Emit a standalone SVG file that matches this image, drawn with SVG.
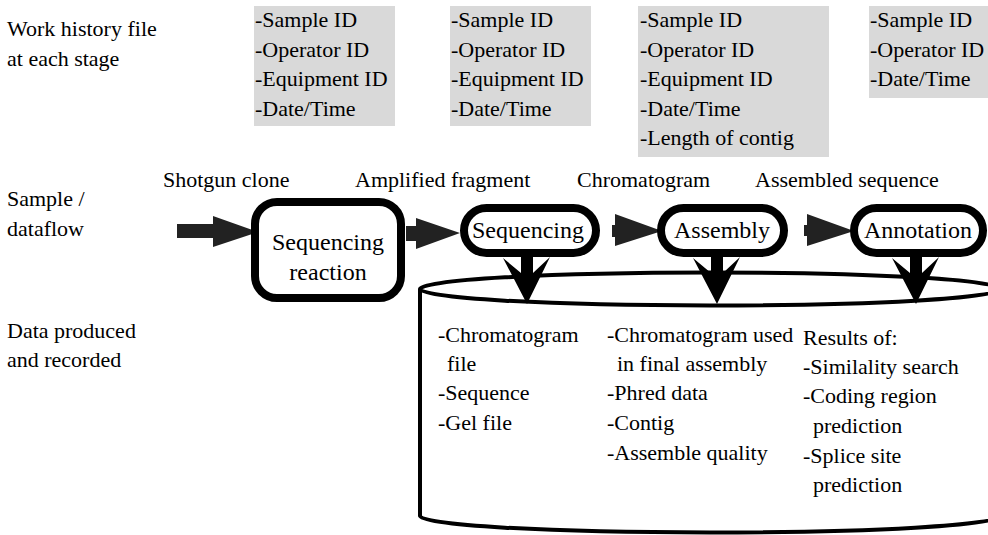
<svg xmlns="http://www.w3.org/2000/svg" width="988" height="535" viewBox="0 0 988 535" font-family="Liberation Serif, serif" font-size="22">
<defs>
<path id="downArrow" d="M-6,0 L6,0 L6,16 L23,0 L0,47 L-24,1 L-6,16 Z" fill="#000"/>
</defs>
<rect width="988" height="535" fill="#fff"/>

<g id="labels-left" font-family="Liberation Serif, serif" fill="#000">
<text x="7" y="36">Work history file</text>
<text x="7" y="66">at each stage</text>
<text x="7" y="206">Sample /</text>
<text x="7" y="236">dataflow</text>
<text x="7" y="338">Data produced</text>
<text x="7" y="367">and recorded</text>
</g>

<g id="history1" font-family="Liberation Serif, serif">
<rect x="254" y="6" width="141" height="120" fill="#d9d9d9"/>
<text x="255" y="27">-Sample ID</text>
<text x="255" y="56.5">-Operator ID</text>
<text x="255" y="86">-Equipment ID</text>
<text x="255" y="115.5">-Date/Time</text>
</g>
<g id="history2" font-family="Liberation Serif, serif">
<rect x="450" y="6" width="141" height="120" fill="#d9d9d9"/>
<text x="451" y="27">-Sample ID</text>
<text x="451" y="56.5">-Operator ID</text>
<text x="451" y="86">-Equipment ID</text>
<text x="451" y="115.5">-Date/Time</text>
</g>
<g id="history3" font-family="Liberation Serif, serif">
<rect x="638" y="6" width="191" height="151" fill="#d9d9d9"/>
<text x="640" y="27">-Sample ID</text>
<text x="640" y="56.5">-Operator ID</text>
<text x="640" y="86">-Equipment ID</text>
<text x="640" y="115.5">-Date/Time</text>
<text x="640" y="145">-Length of contig</text>
</g>
<g id="history4" font-family="Liberation Serif, serif">
<rect x="869" y="6" width="125" height="92" fill="#d9d9d9"/>
<text x="870" y="27">-Sample ID</text>
<text x="870" y="56.5">-Operator ID</text>
<text x="870" y="86">-Date/Time</text>
</g>

<g id="flow-labels" font-family="Liberation Serif, serif">
<text x="163" y="187">Shotgun clone</text>
<text x="355" y="187">Amplified fragment</text>
<text x="577" y="187">Chromatogram</text>
<text x="755" y="187">Assembled sequence</text>
</g>

<g id="database" font-family="Liberation Serif, serif">
<g fill="none" stroke="#000" stroke-width="4">
<path d="M420,289 A290,16.5 0 0 1 1000,289 A290,16.5 0 0 1 420,289 Z"/>
<path d="M420,289 L420,516 A290,16.5 0 0 0 1000,516"/>
</g>
<text x="438" y="342">-Chromatogram</text>
<text x="447" y="371">file</text>
<text x="438" y="400">-Sequence</text>
<text x="438" y="430">-Gel file</text>
<text x="607" y="342">-Chromatogram used</text>
<text x="617" y="371">in final assembly</text>
<text x="607" y="400">-Phred data</text>
<text x="607" y="430">-Contig</text>
<text x="607" y="460">-Assemble quality</text>
<text x="803" y="345">Results of:</text>
<text x="803" y="374">-Similality search</text>
<text x="803" y="403">-Coding region</text>
<text x="813" y="433">prediction</text>
<text x="803" y="463">-Splice site</text>
<text x="813" y="492">prediction</text>
</g>

<g id="connectors">
<g fill="#222">
<polygon points="177,224 213,224 213,216 258,232 213,247 213,238 177,238"/>
<polygon points="406,226 416,226 416,218 460,233 416,249 416,241 406,241"/>
<polygon points="612,225 615,225 615,214 662,231 615,246 615,237 612,237"/>
<polygon points="804,225 807,225 807,214 854,231 807,246 807,236 804,236"/>
</g>
<use href="#downArrow" x="527" y="257"/>
<use href="#downArrow" x="717" y="257"/>
<use href="#downArrow" x="916" y="257"/>
</g>

<g id="node-seqreaction" font-family="Liberation Serif, serif" font-size="24" text-anchor="middle">
<rect x="255" y="202" width="146" height="96" rx="22" fill="#fff" stroke="#000" stroke-width="8"/>
<text x="328" y="250">Sequencing</text>
<text x="328" y="280">reaction</text>
</g>
<g id="node-sequencing" font-family="Liberation Serif, serif" font-size="24" text-anchor="middle">
<rect x="464" y="208" width="132" height="45" rx="22.5" fill="#fff" stroke="#000" stroke-width="8"/>
<text x="528" y="238">Sequencing</text>
</g>
<g id="node-assembly" font-family="Liberation Serif, serif" font-size="24" text-anchor="middle">
<rect x="661" y="208" width="123" height="45" rx="22.5" fill="#fff" stroke="#000" stroke-width="8"/>
<text x="722" y="238">Assembly</text>
</g>
<g id="node-annotation" font-family="Liberation Serif, serif" font-size="24" text-anchor="middle">
<rect x="854" y="208" width="129" height="45" rx="22.5" fill="#fff" stroke="#000" stroke-width="8"/>
<text x="918" y="238">Annotation</text>
</g>
</svg>
